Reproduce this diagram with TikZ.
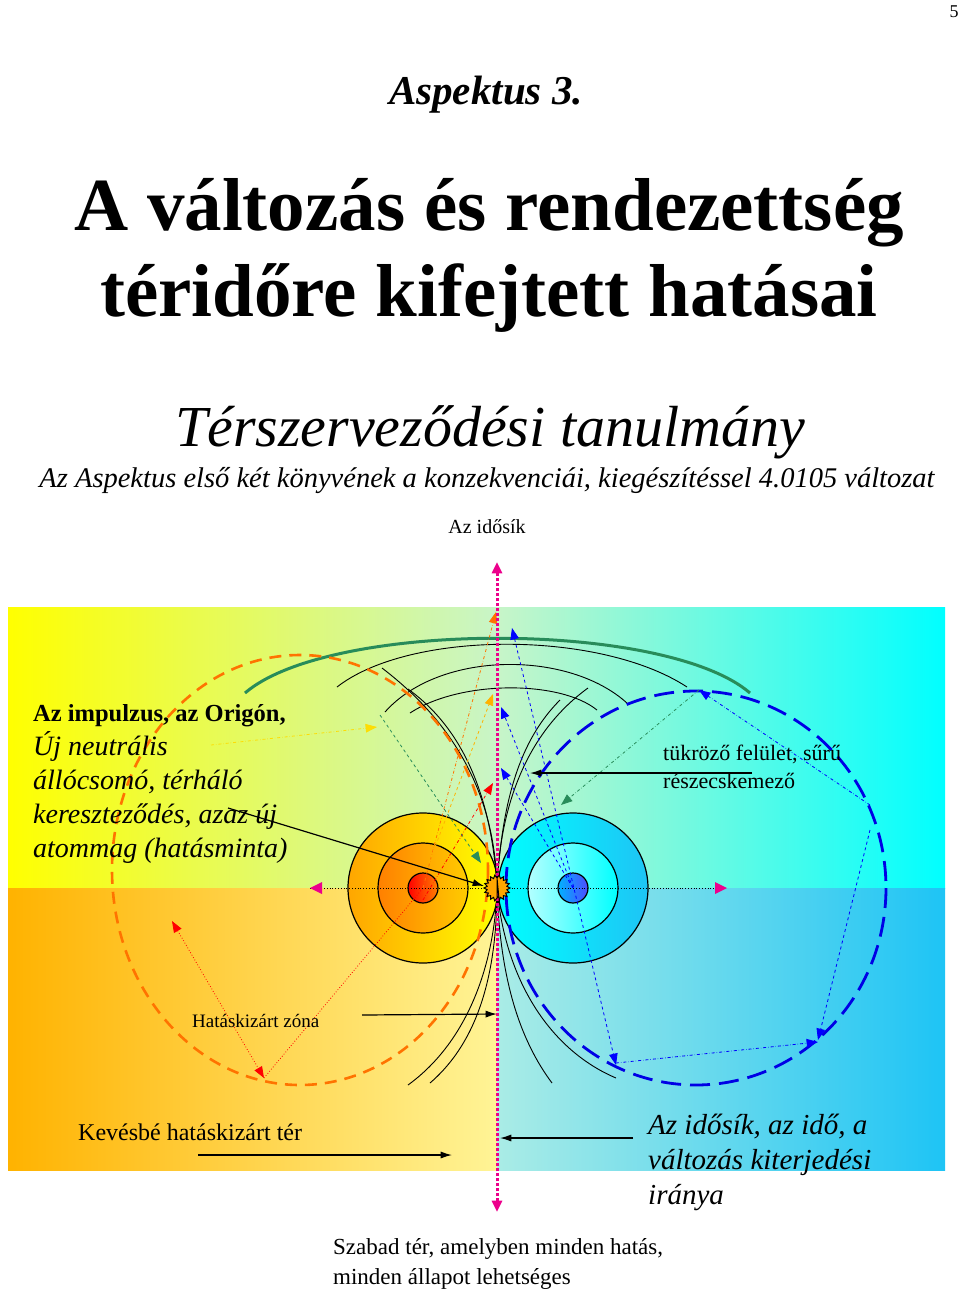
\documentclass[tikz,border=0pt]{standalone}
\usepackage{fontspec}
\setmainfont{Liberation Serif}
\usetikzlibrary{arrows.meta,calc}
\definecolor{paleGreen}{RGB}{200,245,200}
\definecolor{paleYellow}{RGB}{255,244,150}
\definecolor{paleCyan}{RGB}{170,236,230}
\definecolor{deepCyan}{RGB}{30,196,245}
\definecolor{fieldGreen}{RGB}{40,140,90}
\tikzset{%
  >={Latex[width=2mm,length=2mm]},
  % styles for the lines
  fieldLine/.style = {draw=black, line width=0.9pt},
  shellLine/.style = {draw=black, line width=1.2pt},
  pointer/.style = {->, line width=1.2pt, >={Latex[width=2.5mm,length=4mm]}},
  tip/.style = {-{Triangle[width=3mm,length=4mm]}},
  orangeRing/.style = {draw=orange!90!red, line width=2.6pt, dash pattern=on 12pt off 8pt},
  blueRing/.style = {draw=blue!90!black, line width=2.8pt, dash pattern=on 20pt off 9pt},
  label/.style = {anchor=base west, inner sep=0pt, align=left},
  block/.style = {anchor=north west, inner sep=0pt, align=left},
}
\begin{document}
\begin{tikzpicture}[x=1pt,y=-1pt]
  \useasboundingbox (0,0) rectangle (960,1299);
  % headings
  \node (pageNo) at (954,12) {\fontsize{18}{20}\selectfont 5};
  \node (aspect) at (486,95) {\fontsize{41}{44}\selectfont\bfseries\itshape Aspektus 3.};
  \node (titleA) at (489,213) {\fontsize{75}{78}\selectfont\bfseries A változás és rendezettség};
  \node (titleB) at (489,298) {\fontsize{75}{78}\selectfont\bfseries téridőre kifejtett hatásai};
  \node (study) at (490,432) {\fontsize{58}{60}\selectfont\itshape Térszerveződési tanulmány};
  \node (sub) at (487,481) {\fontsize{28.5}{30}\selectfont\itshape Az Aspektus első két könyvének a konzekvenciái, kiegészítéssel 4.0105 változat};
  \node (timePlane) at (487,527) {\fontsize{20}{22}\selectfont Az idősík};

  % background quarters
  \shade[left color=yellow, right color=paleGreen] (8,607) rectangle (497,888);
  \shade[left color=paleGreen, right color=cyan] (497,607) rectangle (945,888);
  \shade[left color=orange!60!yellow, right color=paleYellow] (8,888) rectangle (497,1170);
  \shade[left color=paleCyan, right color=deepCyan] (497,888) rectangle (945,1170);

  % shells
  \shade[shellLine, left color=orange!70!yellow, right color=yellow] (423,888) circle (75);
  \shade[shellLine, left color=orange, right color=orange!40!yellow] (423,888) circle (45);
  \shade[shellLine, left color=red, right color=orange] (423,888) circle (15);
  \shade[shellLine, left color=cyan, right color=deepCyan] (573,888) circle (75);
  \shade[shellLine, left color=cyan!30, right color=cyan] (573,888) circle (45);
  \shade[shellLine, left color=cyan!70!blue, right color=blue!70] (573,888) circle (15);

  % field lines
  \draw[draw=fieldGreen, line width=3pt] (245,693) .. controls (330,620) and (665,620) .. (750,693);
  \draw[fieldLine] (337,687) .. controls (410,630) and (600,630) .. (687,687);
  \draw[fieldLine] (385,712) .. controls (440,650) and (570,650) .. (628,704);
  \draw[fieldLine] (410,713) .. controls (460,680) and (560,680) .. (597,710);
  \draw[fieldLine] (382,668) .. controls (450,720) and (495,790) .. (497,888);
  \draw[fieldLine] (408,689) .. controls (465,730) and (492,800) .. (497,888);
  \draw[fieldLine] (588,688) .. controls (530,730) and (500,800) .. (497,888);
  \draw[fieldLine] (560,700) .. controls (520,740) and (502,800) .. (497,888);
  \draw[fieldLine] (497,888) .. controls (495,960) and (470,1040) .. (408,1085);
  \draw[fieldLine] (497,888) .. controls (497,970) and (480,1040) .. (430,1083);
  \draw[fieldLine] (497,888) .. controls (500,980) and (520,1040) .. (552,1083);
  \draw[fieldLine] (497,888) .. controls (505,980) and (550,1050) .. (616,1078);

  % rings
  \draw[orangeRing] (300,870) ellipse (188 and 215);
  \draw[blueRing] (696,888) ellipse (190 and 197);

  % coloured paths
  \draw[tip, orange!90!red, dash dot, thick] (423,888) -- (496,612);
  \draw[tip, orange!60!yellow, dashed, thick] (429,863) -- (493,694);
  \draw[tip, red, dash dot, thick] (423,900) -- (493,783);
  \draw[tip, fieldGreen, dashed, thick] (380,715) -- (481,863);
  \draw[tip, yellow!80!orange, dash dot, thick] (211,745) -- (377,727);
  \draw[tip, fieldGreen, dash dot, thick] (699,690) -- (561,805);
  \draw[{Triangle[width=3mm,length=4mm]}-{Triangle[width=3mm,length=4mm]}, red, dotted, thick] (172,921) -- (264,1078);
  \draw[red, dotted, thick] (264,1078) -- (423,888);
  \draw[{Triangle[width=3mm,length=4mm]}-{Triangle[width=3mm,length=4mm]}, blue, dashed, thick] (512,628) -- (616,1065);
  \draw[tip, blue, dashed, thick] (573,888) -- (501,707);
  \draw[tip, blue, dashed, thick] (573,888) -- (501,768);
  \draw[tip, blue, dash dot, thick] (616,1063) -- (818,1042);
  \draw[tip, blue, dashed, thick] (870,830) -- (818,1040);
  \draw[tip, blue, dash dot, thick] (870,805) -- (699,690);

  % axes
  \draw[{Triangle[width=3.5mm,length=4mm]}-{Triangle[width=3.5mm,length=4mm]}, magenta, line width=3pt, dotted] (497,1212) -- (497,562);
  \draw[black, dotted, thick] (310,888) -- (727,888);
  \fill[magenta] (310,888) -- (322,882) -- (322,894) -- cycle;
  \fill[magenta] (727,888) -- (715,882) -- (715,894) -- cycle;
  \draw[black, line width=1pt, fill=orange!70!yellow]
    (497,878) \foreach \a in {10,20,...,360} {-- ($(497,888)+(90-\a:{mod(\a,20)==0 ? 10 : 13})$)} -- cycle;

  % texts
  \node[block, font=\fontsize{28}{34}\selectfont] (origin) at (33,704) {{\fontsize{24.5}{30}\selectfont\bfseries Az impulzus, az Origón,}\\
    \itshape Új neutrális\\ \itshape állócsomó, térháló\\ \itshape kereszteződés, azaz új\\ \itshape atommag (hatásminta)};
  \node[block, font=\fontsize{22}{28}\selectfont] (mirror) at (663,745) {tükröző felület, sűrű\\ részecskemező};
  \node[label, font=\fontsize{19}{20}\selectfont] (zone) at (192,1027) {Hatáskizárt zóna};
  \node[label, font=\fontsize{24}{26}\selectfont] (lessZone) at (78,1140) {Kevésbé hatáskizárt tér};
  \node[block, font=\fontsize{29}{35}\selectfont\itshape] (timeDir) at (648,1114) {Az idősík, az idő, a\\ változás kiterjedési\\ iránya};
  \node[block, font=\fontsize{23}{30}\selectfont] (freeSpace) at (333,1238) {Szabad tér, amelyben minden hatás,\\ minden állapot lehetséges};

  % pointers
  \coordinate (originTail) at (228,808);
  \coordinate (mirrorTail) at (752,773);
  \coordinate (zoneTail) at (362,1015);
  \coordinate (lessTail) at (198,1155);
  \coordinate (timeTail) at (633,1138);
  \draw[pointer] (originTail) -- (484,886);
  \draw[pointer] (mirrorTail) -- (530,773);
  \draw[pointer] (zoneTail) -- (497,1014);
  \draw[pointer] (lessTail) -- (452,1155);
  \draw[pointer] (timeTail) -- (500,1138);
\end{tikzpicture}
\end{document}
